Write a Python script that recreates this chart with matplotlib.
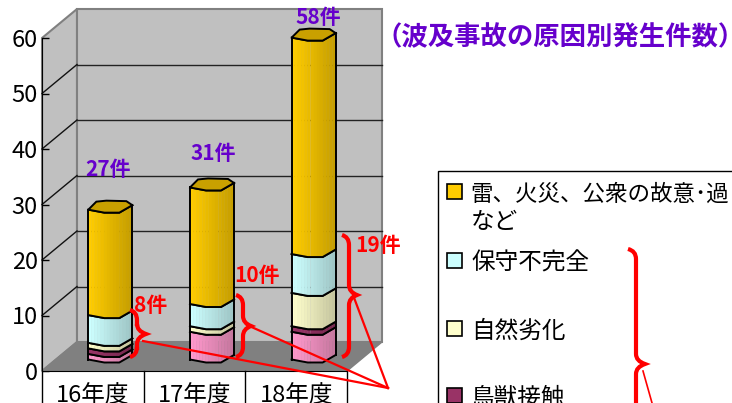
import numpy as np
import matplotlib
matplotlib.use('Agg')
import matplotlib.pyplot as plt
from matplotlib.patches import Polygon, Rectangle, PathPatch
from matplotlib.path import Path
from matplotlib.colors import to_rgb

plt.rcParams['font.family'] = ['Noto Sans CJK JP', 'DejaVu Sans']

# --- data ---
years = ['16年度', '17年度', '18年度']
pink = [1, 5, 5]
maroon = [1, 0, 1]
pale = [1, 1, 6]
cyan = [5, 4, 7]
yellow = [19, 21, 39]
others = [8, 10, 19]
totals = [27, 31, 58]
yticks = [0, 10, 20, 30, 40, 50, 60]
legend_labels = ['雷、火災、公衆の故意･過\nなど', '保守不完全', '自然劣化', '鳥獣接触']
title = '（波及事故の原因別発生件数）'

stack_colors = ['#FF99CC', '#993366', '#FFFFCC', '#CCFFFF', '#FFCC00']
legend_colors = ['#FFCC00', '#CCFFFF', '#FFFFCC', '#993366']
purple = '#6600CC'

W, H = 732, 403
fig = plt.figure(figsize=(W / 100, H / 100), dpi=100)

# main axes = front plane of the 3D box
x0, x1, y0, y1 = 42, 347, 371, 38
ax = fig.add_axes([x0 / W, 1 - y0 / H, (x1 - x0) / W, (y0 - y1) / H])
ax.set_xlim(0, 3)
ax.set_ylim(0, 60)
ux = 3 / (x1 - x0)   # data units per pixel
uy = 60 / (y0 - y1)
dx = 35 * ux         # depth of the box
dy = 29 * uy

# walls and floor
ax.add_patch(Polygon([(0, 0), (dx, dy), (dx, 60 + dy), (0, 60)], fc='#C0C0C0', ec='#808080', lw=1.5, clip_on=False, zorder=1))
ax.add_patch(Rectangle((dx, dy), 3, 60, fc='#C0C0C0', ec='#808080', lw=1.5, clip_on=False, zorder=1))
ax.add_patch(Polygon([(0, 0), (dx, dy), (3 + dx, dy), (3, 0)], fc='#808080', ec='#808080', lw=1, clip_on=False, zorder=2))
for t in yticks[1:-1]:
    ax.plot([0, dx], [t, t + dy], color='#111111', lw=1, clip_on=False, zorder=2)
    ax.plot([dx, 3 + dx], [t + dy, t + dy], color='#222222', lw=1, clip_on=False, zorder=2)

# octagonal column, offsets in pixels from the column centre
front_x = np.array([-22, -6, 9, 22])
front_y = np.array([-3, -6, -6, 1.5])
cap_x = np.array([-22, -6, 9, 22, 16, -4, -14])
cap_y = np.array([-3, -6, -6, 1.5, 5.5, 6, 5])
strips = np.linspace(-22, 22, 15)


def shade(color, f):
    return tuple(c * (1 - 0.24 * f) for c in to_rgb(color))


def draw_segment(cx, bottom, top, color, z):
    base = dy / 2
    for a, b in zip(strips[:-1], strips[1:]):
        f = (a + 22) / 44
        ya = np.interp([a, b], front_x, front_y) * uy
        pts = [(cx + a * ux, bottom + base + ya[0]), (cx + b * ux, bottom + base + ya[1]),
               (cx + b * ux, top + base + ya[1]), (cx + a * ux, top + base + ya[0])]
        ax.add_patch(Polygon(pts, fc=shade(color, f), ec=shade(color, f), lw=0.3, clip_on=False, zorder=z))
    ax.plot([cx + x * ux for x in front_x], [top + base + y * uy for y in front_y], color='black', lw=1.4, clip_on=False, zorder=z + 0.5)
    ax.plot([cx + x * ux for x in front_x], [bottom + base + y * uy for y in front_y], color='black', lw=1.4, clip_on=False, zorder=z + 0.5)


for i in range(len(years)):
    cx = i + 0.5 + dx / 2
    bottom = 0
    z = 5
    for vals, color in zip([pink, maroon, pale, cyan, yellow], stack_colors):
        v = vals[i]
        if v == 0:
            continue
        draw_segment(cx, bottom, bottom + v, color, z)
        bottom += v
        z += 1
    base = dy / 2
    ax.plot([cx - 22 * ux] * 2, [base - 3 * uy, totals[i] + base - 3 * uy], color='black', lw=1.4, clip_on=False, zorder=12)
    ax.plot([cx + 22 * ux] * 2, [base + 1.5 * uy, totals[i] + base + 1.5 * uy], color='black', lw=1.4, clip_on=False, zorder=12)
    cap = [(cx + a * ux, totals[i] + base + b * uy) for a, b in zip(cap_x, cap_y)]
    ax.add_patch(Polygon(cap, fc='#C9A000', ec='black', lw=1.4, clip_on=False, zorder=13))

# axis and table under the chart
ax.set_yticks(yticks)
ax.set_xticks([0.5, 1.5, 2.5])
ax.set_xticklabels(years)
ax.tick_params(axis='y', direction='in', length=5, width=1, labelsize=17, pad=3, color='black')
ax.tick_params(axis='x', length=0, labelsize=17, pad=9)
for s in ['top', 'right']:
    ax.spines[s].set_visible(False)
ax.spines['left'].set_zorder(20)
ax.spines['bottom'].set_zorder(20)
for x in [0, 1, 2, 3]:
    ax.plot([x, x], [0, -32 * uy], color='black', lw=1, clip_on=False, zorder=3)

# overlay in pixel coordinates for the annotations and the legend
ov = fig.add_axes([0, 0, 1, 1])
ov.set_xlim(0, W)
ov.set_ylim(H, 0)
ov.axis('off')
ov.patch.set_alpha(0)


def brace(xa, xb, xt, ytop, ytip, ybot):
    # curly bracket opening left, tip pointing right
    verts = [(xa, ytop), (xb, ytop + 2), (xb, ytop + 10), (xb, ytop + 16),
             (xb, ytip - 10), (xb, ytip - 3), (xt, ytip),
             (xb, ytip + 3), (xb, ytip + 10), (xb, ytip + 16),
             (xb, ybot - 10), (xb, ybot - 2), (xa, ybot)]
    codes = [Path.MOVETO, Path.CURVE3, Path.CURVE3, Path.LINETO, Path.LINETO,
             Path.CURVE3, Path.CURVE3, Path.CURVE3, Path.CURVE3, Path.LINETO,
             Path.LINETO, Path.CURVE3, Path.CURVE3]
    ov.add_patch(PathPatch(Path(verts, codes), fc='none', ec='#FF0000', lw=3))


brace(130, 137, 146, 310, 334, 357)
brace(236, 243, 251, 295, 326, 357)
brace(342, 349, 357, 235, 295, 357)
brace(628, 636, 645, 249, 364, 479)

for xa, ya in [(143, 341), (247, 325), (353, 295)]:
    ov.plot([xa, 388], [ya, 388], color='#FF0000', lw=1.6)
ov.plot([643, 654], [371, 410], color='#FF0000', lw=1.2)

# labels
for (x, y), t in zip([(108, 169), (213, 153), (318, 18)], totals):
    ov.text(x, y, f'{t}件', color=purple, fontsize=15, fontweight='bold', ha='center', va='center')
for (x, y), t in zip([(151, 305), (257, 276), (378, 245)], others):
    ov.text(x, y, f'{t}件', color='#FF0000', fontsize=15, fontweight='bold', ha='center', va='center')
ov.text(560, 38, title, color=purple, fontsize=19, fontweight='bold', ha='center', va='center')

# legend box runs off the picture at right and bottom
ov.add_patch(Rectangle((438, 171), 320, 300, fc='white', ec='black', lw=1, zorder=0.5))
for y, label, color in zip([192, 261, 329, 396], legend_labels, legend_colors):
    ov.add_patch(Rectangle((447, y - 8), 15, 15, fc=color, ec='black', lw=1.2))
    if '\n' in label:
        first, second = label.split('\n')
        ov.text(470, y + 2, first, fontsize=16.2, va='center', clip_on=True)
        ov.text(471, y + 30, second, fontsize=17, va='center', clip_on=True)
    else:
        ov.text(471, y + 2, label, fontsize=17, va='center', clip_on=True)

plt.savefig('out.png', dpi=100)
